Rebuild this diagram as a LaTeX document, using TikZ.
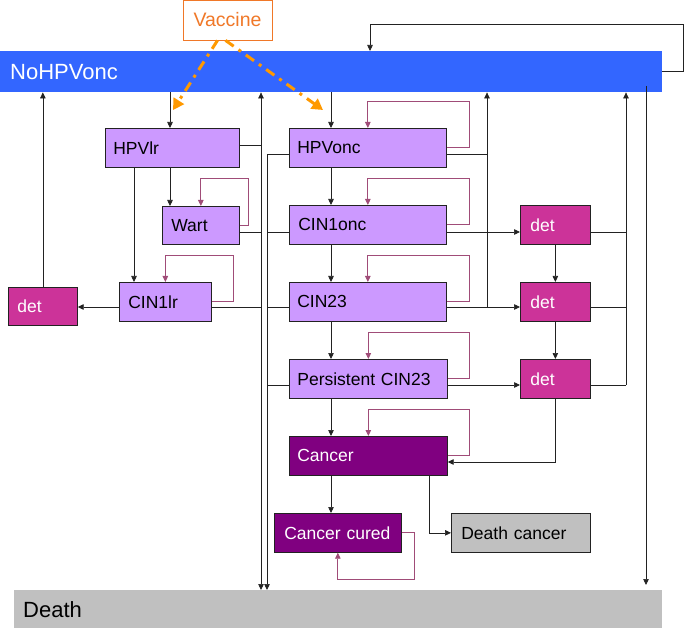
\documentclass[tikz,border=0pt]{standalone}
\usepackage{fontspec}
\setmainfont{Liberation Sans}
\usetikzlibrary{arrows.meta}
\definecolor{lpur}{HTML}{CC99FF}
\definecolor{mag}{HTML}{CC3399}
\definecolor{dpur}{HTML}{800080}
\definecolor{gry}{HTML}{C0C0C0}
\definecolor{blu}{HTML}{3366FF}
\definecolor{org}{HTML}{FF9900}
\definecolor{vorg}{HTML}{F07828}
\definecolor{lpc}{HTML}{A04C78}
\definecolor{ln}{HTML}{222222}
\begin{document}
\begin{tikzpicture}[x=1pt,y=-1pt,
  bx/.style={draw=ln, line width=0.7pt, anchor=north west, inner xsep=8pt, inner ysep=0pt,
    align=left, minimum height=39pt, font=\fontsize{17.5}{19}\selectfont},
  lbox/.style={bx, fill=lpur, text=black},
  dbox/.style={bx, fill=mag, text=white, inner xsep=10pt},
  cbox/.style={bx, fill=dpur, text=white},
  gbox/.style={bx, fill=gry, text=black},
  barbox/.style={anchor=north west, inner xsep=10pt, inner ysep=0pt, align=left,
    font=\fontsize{22}{24}\selectfont},
  arr/.style={draw=ln, line width=0.7pt, -{Triangle[length=6pt,width=5.5pt]}},
  lnk/.style={draw=ln, line width=0.7pt},
  selfloop/.style={draw=lpc, line width=0.8pt, -{Triangle[length=6pt,width=5.5pt]}},
  vdash/.style={draw=org, line width=3pt, dash pattern=on 10pt off 6pt on 3pt off 6pt,
    -{Triangle[length=11pt,width=12pt]}}]
\useasboundingbox (0,0) rectangle (685,628);

% bars
\node[barbox, fill=blu, text=white, text width=642pt, minimum height=41pt] (nohpv) at (0,51) {NoHPVonc};
\node[barbox, fill=gry, text=black, inner xsep=9pt, text width=630pt, minimum height=38pt] (death) at (14,590) {Death};
\node[draw=vorg, line width=0.8pt, fill=white, text=vorg, minimum width=89pt, minimum height=40pt,
  inner sep=0pt, font=\fontsize{19.5}{21}\selectfont] (vaccine) at (227.5,20) {Vaccine};

% boxes
\node[lbox, text width=118pt] (hpvlr) at (105,128) {HPVlr};
\node[lbox, text width=59pt, inner xsep=9pt, minimum height=38pt] (wart) at (162,206) {Wart};
\node[lbox, text width=74pt, inner xsep=9pt] (cinlr) at (119,282) {CIN1lr};
\node[dbox, text width=51pt, inner xsep=9pt, minimum height=38pt] (detl) at (8,287) {det};
\node[lbox, text width=141pt] (hpvonc) at (289,128) {HPVonc};
\node[lbox, text width=139pt, inner xsep=9pt] (cin1) at (289,205) {CIN1onc};
\node[lbox, text width=141pt] (cin23) at (289,282) {CIN23};
\node[lbox, text width=142pt] (pcin) at (289,359) {Persistent CIN23};
\node[cbox, text width=142pt] (cancer) at (289,436) {Cancer};
\node[cbox, text width=107pt, inner xsep=10pt] (cured) at (274,513) {Cancer cured};
\node[gbox, text width=119pt, inner xsep=10pt] (dcan) at (451,513) {Death cancer};
\node[dbox, text width=50pt] (det1) at (520,205) {det};
\node[dbox, text width=50pt] (det2) at (520,282) {det};
\node[dbox, text width=50pt] (det3) at (520,359) {det};

% helper coordinates
\coordinate (xa) at (261,0);
\coordinate (xb) at (267,0);
\coordinate (xc) at (487,0);
\coordinate (xd) at (626,0);
\coordinate (x134) at (134,0);
\coordinate (x170) at (170,0);
\coordinate (x331) at (331,0);
\coordinate (x429) at (429,0);
\coordinate (r145) at (0,145);
\coordinate (r154) at (0,154);
\coordinate (r232) at (0,232);
\coordinate (r307) at (0,307);
\coordinate (r385) at (0,385);
\coordinate (r462) at (0,462);
\coordinate (tl) at (370,24);
\coordinate (tr) at (683,24);
\coordinate (e0) at (646,86);
\coordinate (va1) at (173,110);
\coordinate (va2) at (323,110);

% top loop back into NoHPVonc
\draw[arr] (nohpv.east) -- (tr |- nohpv.east) -- (tr) -- (tl) -- (tl |- nohpv.north);

% vaccine arrows
\draw[vdash] ([xshift=-10pt]vaccine.south) -- (va1);
\draw[vdash] ([xshift=-2pt]vaccine.south) -- (va2);

% NoHPVonc to infections
\draw[arr] (x170 |- nohpv.south) -- (x170 |- hpvlr.north);
\draw[arr] (x331 |- nohpv.south) -- (x331 |- hpvonc.north);

% low-risk branch
\draw[arr] (x170 |- hpvlr.south) -- (x170 |- wart.north);
\draw[arr] (x134 |- hpvlr.south) -- (x134 |- cinlr.north);
\draw[arr] (cinlr.west |- r307) -- (detl.east |- r307);
\draw[arr] (detl.north) -- (detl.north |- nohpv.south);

% oncogenic chain
\draw[arr] (x331 |- hpvonc.south) -- (x331 |- cin1.north);
\draw[arr] (x331 |- cin1.south) -- (x331 |- cin23.north);
\draw[arr] (x331 |- cin23.south) -- (x331 |- pcin.north);
\draw[arr] (x331 |- pcin.south) -- (x331 |- cancer.north);
\draw[arr] (x331 |- cancer.south) -- (x331 |- cured.north);
\draw[arr] (x429 |- cancer.south) |- (dcan.west);

% self loops
\draw[selfloop] (hpvonc.east) -- ++(23,0) |- ([yshift=27pt]hpvonc.north) -- (hpvonc.north);
\draw[selfloop] (cin1.east) -- ++(23,0) |- ([yshift=27pt]cin1.north) -- (cin1.north);
\draw[selfloop] (cin23.east) -- ++(23,0) |- ([yshift=27pt]cin23.north) -- (cin23.north);
\draw[selfloop] (pcin.east) -- ++(22,0) |- ([yshift=27pt]pcin.north) -- (pcin.north);
\draw[selfloop] (cancer.east) -- ++(22,0) |- ([yshift=27pt]cancer.north) -- (cancer.north);
\draw[selfloop] (wart.east) -- ++(9,0) |- ([yshift=28pt]wart.north) -- (wart.north);
\draw[selfloop] (cinlr.east) -- ++(22,0) |- ([yshift=27pt]cinlr.north) -- (cinlr.north);
\draw[selfloop] (cured.east) -- ++(13,0) |- ([yshift=-27pt]cured.south) -- (cured.south);

% bus A (low-risk: clearance and death)
\draw[draw=ln, line width=0.7pt, {Triangle[length=6pt,width=5.5pt]}-{Triangle[length=6pt,width=5.5pt]}]
  (xa |- nohpv.south) -- (xa |- death.north);
\draw[lnk] (hpvlr.east |- r145) -- (xa |- r145);
\draw[lnk] (wart.east |- r232) -- (xa |- r232);
\draw[lnk] (cinlr.east |- r307) -- (xa |- r307);

% bus B (oncogenic: death)
\draw[arr] (hpvonc.west |- r154) -| (xb |- death.north);
\draw[lnk] (cin1.west |- r232) -- (xb |- r232);
\draw[lnk] (cin23.west |- r307) -- (xb |- r307);
\draw[lnk] (pcin.west |- r385) -- (xb |- r385);

% bus C (clearance of oncogenic)
\draw[lnk] (hpvonc.east |- r154) -- (xc |- r154);
\draw[arr] (xc |- r307) -- (xc |- nohpv.south);

% to detection
\draw[arr] (cin1.east |- r232) -- (det1.west |- r232);
\draw[arr] (cin23.east |- r307) -- (det2.west |- r307);
\draw[arr] (pcin.east |- r385) -- (det3.west |- r385);
\draw[arr] (det1.south) -- (det2.north);
\draw[arr] (det2.south) -- (det3.north);
\draw[arr] (det3.south) |- (cancer.east |- r462);

% bus D (detected back to NoHPVonc)
\draw[lnk] (det1.east |- r232) -- (xd |- r232);
\draw[lnk] (det2.east |- r307) -- (xd |- r307);
\draw[lnk] (det3.east |- r385) -- (xd |- r385);
\draw[arr] (xd |- r385) -- (xd |- nohpv.south);

% bus E (NoHPVonc to death)
\draw[arr, shorten >=5pt] (e0) -- (e0 |- death.north);
\end{tikzpicture}
\end{document}
